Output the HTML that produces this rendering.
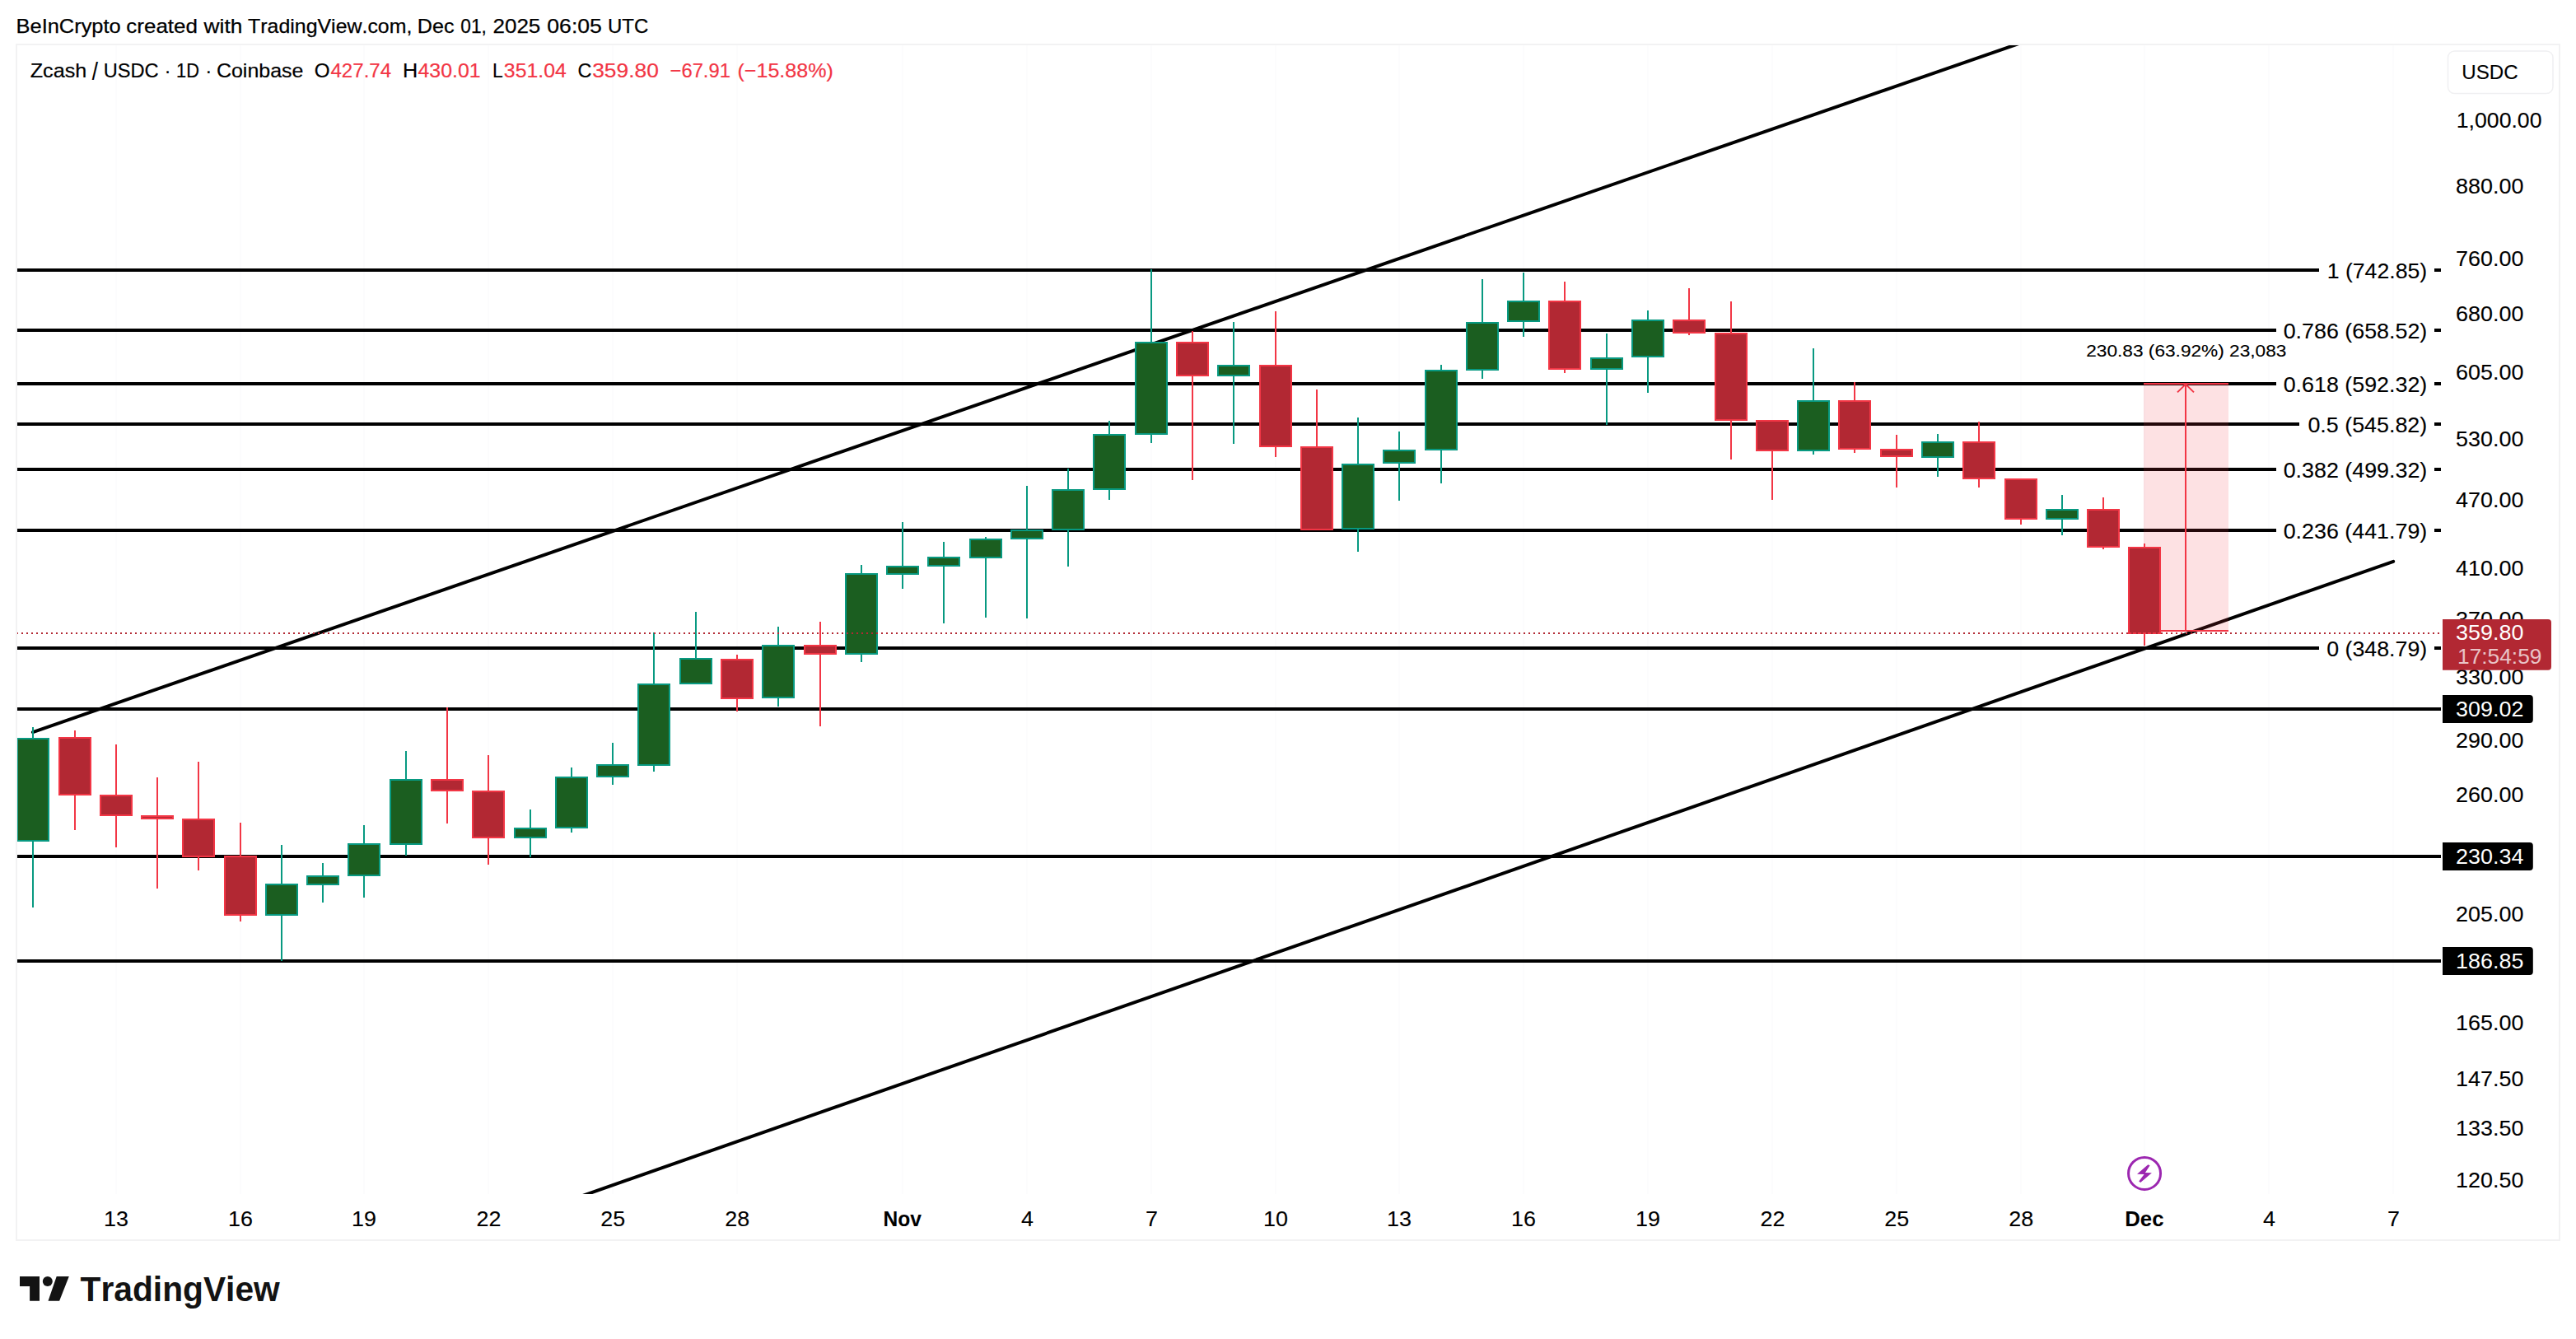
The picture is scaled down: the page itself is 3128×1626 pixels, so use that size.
<!DOCTYPE html>
<html lang="en"><head><meta charset="utf-8"><title>Zcash / USDC chart</title>
<style>html,body{margin:0;padding:0;background:#fff;overflow:hidden;}svg{display:block;width:100vw;height:auto;}</style></head>
<body>
<svg viewBox="0 0 3128 1626" font-family='"Liberation Sans", sans-serif' style="font-kerning:none">
<rect width="3128" height="1626" fill="#ffffff"/>
<rect x="20" y="54" width="3088" height="1452" fill="none" stroke="#f2f2f3" stroke-width="2"/>
<defs><clipPath id="pane"><rect x="21" y="55" width="2943" height="1395"/></clipPath></defs>
<rect x="140" y="55" width="2" height="1395" fill="#fcfcfd"/>
<rect x="291" y="55" width="2" height="1395" fill="#fcfcfd"/>
<rect x="441" y="55" width="2" height="1395" fill="#fcfcfd"/>
<rect x="592" y="55" width="2" height="1395" fill="#fcfcfd"/>
<rect x="743" y="55" width="2" height="1395" fill="#fcfcfd"/>
<rect x="894" y="55" width="2" height="1395" fill="#fcfcfd"/>
<rect x="1095" y="55" width="2" height="1395" fill="#fcfcfd"/>
<rect x="1246" y="55" width="2" height="1395" fill="#fcfcfd"/>
<rect x="1397" y="55" width="2" height="1395" fill="#fcfcfd"/>
<rect x="1548" y="55" width="2" height="1395" fill="#fcfcfd"/>
<rect x="1698" y="55" width="2" height="1395" fill="#fcfcfd"/>
<rect x="1849" y="55" width="2" height="1395" fill="#fcfcfd"/>
<rect x="2000" y="55" width="2" height="1395" fill="#fcfcfd"/>
<rect x="2151" y="55" width="2" height="1395" fill="#fcfcfd"/>
<rect x="2302" y="55" width="2" height="1395" fill="#fcfcfd"/>
<rect x="2453" y="55" width="2" height="1395" fill="#fcfcfd"/>
<rect x="2603" y="55" width="2" height="1395" fill="#fcfcfd"/>
<rect x="2754" y="55" width="2" height="1395" fill="#fcfcfd"/>
<rect x="2905" y="55" width="2" height="1395" fill="#fcfcfd"/>
<text x="19.57" y="39.90" font-size="24" fill="#000000" textLength="127.10" lengthAdjust="spacingAndGlyphs" stroke="#000000" stroke-width="0.25">BeInCrypto</text>
<text x="153.30" y="39.90" font-size="24" fill="#000000" textLength="86.68" lengthAdjust="spacingAndGlyphs" stroke="#000000" stroke-width="0.25">created</text>
<text x="247.64" y="39.90" font-size="24" fill="#000000" textLength="46.67" lengthAdjust="spacingAndGlyphs" stroke="#000000" stroke-width="0.25">with</text>
<text x="301.14" y="39.90" font-size="24" fill="#000000" textLength="199.20" lengthAdjust="spacingAndGlyphs" stroke="#000000" stroke-width="0.25">TradingView.com,</text>
<text x="506.84" y="39.90" font-size="24" fill="#000000" textLength="44.73" lengthAdjust="spacingAndGlyphs" stroke="#000000" stroke-width="0.25">Dec</text>
<text x="559.31" y="39.90" font-size="24" fill="#000000" textLength="31.63" lengthAdjust="spacingAndGlyphs" stroke="#000000" stroke-width="0.25">01,</text>
<text x="598.49" y="39.90" font-size="24" fill="#000000" textLength="57.80" lengthAdjust="spacingAndGlyphs" stroke="#000000" stroke-width="0.25">2025</text>
<text x="664.26" y="39.90" font-size="24" fill="#000000" textLength="66.66" lengthAdjust="spacingAndGlyphs" stroke="#000000" stroke-width="0.25">06:05</text>
<text x="737.95" y="39.90" font-size="24" fill="#000000" textLength="49.26" lengthAdjust="spacingAndGlyphs" stroke="#000000" stroke-width="0.25">UTC</text>
<text x="36.70" y="94.00" font-size="24.5" fill="#000000" textLength="68.53" lengthAdjust="spacingAndGlyphs" stroke="#000000" stroke-width="0.2">Zcash</text>
<text x="111.70" y="97.40" font-size="29" fill="#000000" textLength="7.20" lengthAdjust="spacingAndGlyphs" stroke="#000000" stroke-width="0.12">/</text>
<text x="125.68" y="94.00" font-size="24.5" fill="#000000" textLength="66.92" lengthAdjust="spacingAndGlyphs" stroke="#000000" stroke-width="0.2">USDC</text>
<text x="199.43" y="94.00" font-size="24.5" fill="#000000" textLength="8.16" lengthAdjust="spacingAndGlyphs" stroke="#000000" stroke-width="0.12">·</text>
<text x="214.04" y="94.00" font-size="24.5" fill="#000000" textLength="27.91" lengthAdjust="spacingAndGlyphs" stroke="#000000" stroke-width="0.2">1D</text>
<text x="249.13" y="94.00" font-size="24.5" fill="#000000" textLength="8.16" lengthAdjust="spacingAndGlyphs" stroke="#000000" stroke-width="0.12">·</text>
<text x="262.93" y="94.00" font-size="24.5" fill="#000000" textLength="105.58" lengthAdjust="spacingAndGlyphs" stroke="#000000" stroke-width="0.2">Coinbase</text>
<text x="381.86" y="94.00" font-size="24.5" fill="#000000" textLength="18.80" lengthAdjust="spacingAndGlyphs" stroke="#000000" stroke-width="0.2">O</text>
<text x="401.45" y="94.00" font-size="24.5" fill="#f23645" textLength="73.76" lengthAdjust="spacingAndGlyphs" stroke="#f23645" stroke-width="0.2">427.74</text>
<text x="488.93" y="94.00" font-size="24.5" fill="#000000" textLength="18.23" lengthAdjust="spacingAndGlyphs" stroke="#000000" stroke-width="0.2">H</text>
<text x="507.53" y="94.00" font-size="24.5" fill="#f23645" textLength="76.09" lengthAdjust="spacingAndGlyphs" stroke="#f23645" stroke-width="0.2">430.01</text>
<text x="597.92" y="94.00" font-size="24.5" fill="#000000" textLength="12.74" lengthAdjust="spacingAndGlyphs" stroke="#000000" stroke-width="0.2">L</text>
<text x="611.86" y="94.00" font-size="24.5" fill="#f23645" textLength="75.87" lengthAdjust="spacingAndGlyphs" stroke="#f23645" stroke-width="0.2">351.04</text>
<text x="701.61" y="94.00" font-size="24.5" fill="#000000" textLength="16.88" lengthAdjust="spacingAndGlyphs" stroke="#000000" stroke-width="0.2">C</text>
<text x="719.20" y="94.00" font-size="24.5" fill="#f23645" textLength="80.63" lengthAdjust="spacingAndGlyphs" stroke="#f23645" stroke-width="0.2">359.80</text>
<text x="813.53" y="94.00" font-size="24.5" fill="#f23645" textLength="73.44" lengthAdjust="spacingAndGlyphs" stroke="#f23645" stroke-width="0.2">−67.91</text>
<text x="895.44" y="94.00" font-size="24.5" fill="#f23645" textLength="116.41" lengthAdjust="spacingAndGlyphs" stroke="#f23645" stroke-width="0.2">(−15.88%)</text>
<g clip-path="url(#pane)">
<rect x="20.5" y="326" width="2795.5" height="4" fill="#000"/>
<rect x="20.5" y="399" width="2743.5" height="4" fill="#000"/>
<rect x="20.5" y="464" width="2743.5" height="4" fill="#000"/>
<rect x="20.5" y="513" width="2771.5" height="4" fill="#000"/>
<rect x="20.5" y="568" width="2743.5" height="4" fill="#000"/>
<rect x="20.5" y="642" width="2743.5" height="4" fill="#000"/>
<rect x="20.5" y="785" width="2795.5" height="4" fill="#000"/>
<rect x="20.5" y="859.0" width="2943.5" height="4" fill="#000"/>
<rect x="20.5" y="1038.0" width="2943.5" height="4" fill="#000"/>
<rect x="20.5" y="1165.0" width="2943.5" height="4" fill="#000"/>
<line x1="39.90" y1="889.10" x2="2600.00" y2="1.51" stroke="#000" stroke-width="4" stroke-linecap="round"/>
<line x1="600.00" y1="1489.66" x2="2906.20" y2="681.80" stroke="#000" stroke-width="4" stroke-linecap="round"/>
<rect x="2603" y="466" width="103" height="300" fill="#f23645" fill-opacity="0.15"/>
<rect x="39" y="883" width="2" height="219" fill="#089981"/>
<rect x="20" y="896" width="40" height="126" fill="#089981"/>
<rect x="22" y="898" width="36" height="122" fill="#1b5e20"/>
<rect x="90" y="887" width="2" height="121" fill="#f23645"/>
<rect x="71" y="895" width="40" height="71" fill="#f23645"/>
<rect x="73" y="897" width="36" height="67" fill="#b22833"/>
<rect x="140" y="904" width="2" height="125" fill="#f23645"/>
<rect x="121" y="965" width="40" height="26" fill="#f23645"/>
<rect x="123" y="967" width="36" height="22" fill="#b22833"/>
<rect x="190" y="944" width="2" height="135" fill="#f23645"/>
<rect x="171" y="990" width="40" height="5" fill="#f23645"/>
<rect x="173" y="992" width="36" height="1" fill="#b22833"/>
<rect x="240" y="925" width="2" height="132" fill="#f23645"/>
<rect x="221" y="994" width="40" height="47" fill="#f23645"/>
<rect x="223" y="996" width="36" height="43" fill="#b22833"/>
<rect x="291" y="999" width="2" height="120" fill="#f23645"/>
<rect x="272" y="1039" width="40" height="73" fill="#f23645"/>
<rect x="274" y="1041" width="36" height="69" fill="#b22833"/>
<rect x="341" y="1026" width="2" height="141" fill="#089981"/>
<rect x="322" y="1073" width="40" height="39" fill="#089981"/>
<rect x="324" y="1075" width="36" height="35" fill="#1b5e20"/>
<rect x="391" y="1048" width="2" height="48" fill="#089981"/>
<rect x="372" y="1063" width="40" height="12" fill="#089981"/>
<rect x="374" y="1065" width="36" height="8" fill="#1b5e20"/>
<rect x="441" y="1002" width="2" height="88" fill="#089981"/>
<rect x="422" y="1024" width="40" height="40" fill="#089981"/>
<rect x="424" y="1026" width="36" height="36" fill="#1b5e20"/>
<rect x="492" y="912" width="2" height="127" fill="#089981"/>
<rect x="473" y="946" width="40" height="80" fill="#089981"/>
<rect x="475" y="948" width="36" height="76" fill="#1b5e20"/>
<rect x="542" y="859" width="2" height="141" fill="#f23645"/>
<rect x="523" y="946" width="40" height="15" fill="#f23645"/>
<rect x="525" y="948" width="36" height="11" fill="#b22833"/>
<rect x="592" y="917" width="2" height="133" fill="#f23645"/>
<rect x="573" y="960" width="40" height="58" fill="#f23645"/>
<rect x="575" y="962" width="36" height="54" fill="#b22833"/>
<rect x="643" y="983" width="2" height="58" fill="#089981"/>
<rect x="624" y="1005" width="40" height="13" fill="#089981"/>
<rect x="626" y="1007" width="36" height="9" fill="#1b5e20"/>
<rect x="693" y="932" width="2" height="79" fill="#089981"/>
<rect x="674" y="943" width="40" height="63" fill="#089981"/>
<rect x="676" y="945" width="36" height="59" fill="#1b5e20"/>
<rect x="743" y="902" width="2" height="51" fill="#089981"/>
<rect x="724" y="928" width="40" height="16" fill="#089981"/>
<rect x="726" y="930" width="36" height="12" fill="#1b5e20"/>
<rect x="793" y="768" width="2" height="169" fill="#089981"/>
<rect x="774" y="830" width="40" height="100" fill="#089981"/>
<rect x="776" y="832" width="36" height="96" fill="#1b5e20"/>
<rect x="844" y="743" width="2" height="88" fill="#089981"/>
<rect x="825" y="799" width="40" height="32" fill="#089981"/>
<rect x="827" y="801" width="36" height="28" fill="#1b5e20"/>
<rect x="894" y="795" width="2" height="69" fill="#f23645"/>
<rect x="875" y="800" width="40" height="49" fill="#f23645"/>
<rect x="877" y="802" width="36" height="45" fill="#b22833"/>
<rect x="944" y="761" width="2" height="97" fill="#089981"/>
<rect x="925" y="783" width="40" height="65" fill="#089981"/>
<rect x="927" y="785" width="36" height="61" fill="#1b5e20"/>
<rect x="995" y="755" width="2" height="127" fill="#f23645"/>
<rect x="976" y="783" width="40" height="12" fill="#f23645"/>
<rect x="978" y="785" width="36" height="8" fill="#b22833"/>
<rect x="1045" y="686" width="2" height="118" fill="#089981"/>
<rect x="1026" y="696" width="40" height="99" fill="#089981"/>
<rect x="1028" y="698" width="36" height="95" fill="#1b5e20"/>
<rect x="1095" y="634" width="2" height="81" fill="#089981"/>
<rect x="1076" y="687" width="40" height="11" fill="#089981"/>
<rect x="1078" y="689" width="36" height="7" fill="#1b5e20"/>
<rect x="1145" y="658" width="2" height="99" fill="#089981"/>
<rect x="1126" y="676" width="40" height="12" fill="#089981"/>
<rect x="1128" y="678" width="36" height="8" fill="#1b5e20"/>
<rect x="1196" y="652" width="2" height="98" fill="#089981"/>
<rect x="1177" y="654" width="40" height="24" fill="#089981"/>
<rect x="1179" y="656" width="36" height="20" fill="#1b5e20"/>
<rect x="1246" y="590" width="2" height="161" fill="#089981"/>
<rect x="1227" y="643" width="40" height="12" fill="#089981"/>
<rect x="1229" y="645" width="36" height="8" fill="#1b5e20"/>
<rect x="1296" y="569" width="2" height="119" fill="#089981"/>
<rect x="1277" y="594" width="40" height="50" fill="#089981"/>
<rect x="1279" y="596" width="36" height="46" fill="#1b5e20"/>
<rect x="1346" y="511" width="2" height="96" fill="#089981"/>
<rect x="1327" y="527" width="40" height="68" fill="#089981"/>
<rect x="1329" y="529" width="36" height="64" fill="#1b5e20"/>
<rect x="1397" y="327" width="2" height="211" fill="#089981"/>
<rect x="1378" y="415" width="40" height="113" fill="#089981"/>
<rect x="1380" y="417" width="36" height="109" fill="#1b5e20"/>
<rect x="1447" y="402" width="2" height="181" fill="#f23645"/>
<rect x="1428" y="415" width="40" height="42" fill="#f23645"/>
<rect x="1430" y="417" width="36" height="38" fill="#b22833"/>
<rect x="1497" y="391" width="2" height="148" fill="#089981"/>
<rect x="1478" y="443" width="40" height="14" fill="#089981"/>
<rect x="1480" y="445" width="36" height="10" fill="#1b5e20"/>
<rect x="1548" y="378" width="2" height="177" fill="#f23645"/>
<rect x="1529" y="443" width="40" height="100" fill="#f23645"/>
<rect x="1531" y="445" width="36" height="96" fill="#b22833"/>
<rect x="1598" y="473" width="2" height="171" fill="#f23645"/>
<rect x="1579" y="542" width="40" height="102" fill="#f23645"/>
<rect x="1581" y="544" width="36" height="98" fill="#b22833"/>
<rect x="1648" y="507" width="2" height="163" fill="#089981"/>
<rect x="1629" y="563" width="40" height="80" fill="#089981"/>
<rect x="1631" y="565" width="36" height="76" fill="#1b5e20"/>
<rect x="1698" y="524" width="2" height="84" fill="#089981"/>
<rect x="1679" y="546" width="40" height="17" fill="#089981"/>
<rect x="1681" y="548" width="36" height="13" fill="#1b5e20"/>
<rect x="1749" y="443" width="2" height="144" fill="#089981"/>
<rect x="1730" y="449" width="40" height="98" fill="#089981"/>
<rect x="1732" y="451" width="36" height="94" fill="#1b5e20"/>
<rect x="1799" y="339" width="2" height="121" fill="#089981"/>
<rect x="1780" y="391" width="40" height="59" fill="#089981"/>
<rect x="1782" y="393" width="36" height="55" fill="#1b5e20"/>
<rect x="1849" y="331" width="2" height="78" fill="#089981"/>
<rect x="1830" y="365" width="40" height="26" fill="#089981"/>
<rect x="1832" y="367" width="36" height="22" fill="#1b5e20"/>
<rect x="1899" y="342" width="2" height="111" fill="#f23645"/>
<rect x="1880" y="365" width="40" height="84" fill="#f23645"/>
<rect x="1882" y="367" width="36" height="80" fill="#b22833"/>
<rect x="1950" y="405" width="2" height="111" fill="#089981"/>
<rect x="1931" y="434" width="40" height="15" fill="#089981"/>
<rect x="1933" y="436" width="36" height="11" fill="#1b5e20"/>
<rect x="2000" y="377" width="2" height="100" fill="#089981"/>
<rect x="1981" y="388" width="40" height="46" fill="#089981"/>
<rect x="1983" y="390" width="36" height="42" fill="#1b5e20"/>
<rect x="2050" y="350" width="2" height="57" fill="#f23645"/>
<rect x="2031" y="388" width="40" height="17" fill="#f23645"/>
<rect x="2033" y="390" width="36" height="13" fill="#b22833"/>
<rect x="2101" y="366" width="2" height="192" fill="#f23645"/>
<rect x="2082" y="404" width="40" height="107" fill="#f23645"/>
<rect x="2084" y="406" width="36" height="103" fill="#b22833"/>
<rect x="2151" y="510" width="2" height="97" fill="#f23645"/>
<rect x="2132" y="510" width="40" height="38" fill="#f23645"/>
<rect x="2134" y="512" width="36" height="34" fill="#b22833"/>
<rect x="2201" y="423" width="2" height="129" fill="#089981"/>
<rect x="2182" y="486" width="40" height="62" fill="#089981"/>
<rect x="2184" y="488" width="36" height="58" fill="#1b5e20"/>
<rect x="2251" y="464" width="2" height="86" fill="#f23645"/>
<rect x="2232" y="486" width="40" height="60" fill="#f23645"/>
<rect x="2234" y="488" width="36" height="56" fill="#b22833"/>
<rect x="2302" y="528" width="2" height="64" fill="#f23645"/>
<rect x="2283" y="545" width="40" height="10" fill="#f23645"/>
<rect x="2285" y="547" width="36" height="6" fill="#b22833"/>
<rect x="2352" y="527" width="2" height="52" fill="#089981"/>
<rect x="2333" y="536" width="40" height="20" fill="#089981"/>
<rect x="2335" y="538" width="36" height="16" fill="#1b5e20"/>
<rect x="2402" y="512" width="2" height="80" fill="#f23645"/>
<rect x="2383" y="536" width="40" height="46" fill="#f23645"/>
<rect x="2385" y="538" width="36" height="42" fill="#b22833"/>
<rect x="2453" y="581" width="2" height="56" fill="#f23645"/>
<rect x="2434" y="581" width="40" height="50" fill="#f23645"/>
<rect x="2436" y="583" width="36" height="46" fill="#b22833"/>
<rect x="2503" y="601" width="2" height="49" fill="#089981"/>
<rect x="2484" y="618" width="40" height="13" fill="#089981"/>
<rect x="2486" y="620" width="36" height="9" fill="#1b5e20"/>
<rect x="2553" y="604" width="2" height="63" fill="#f23645"/>
<rect x="2534" y="618" width="40" height="47" fill="#f23645"/>
<rect x="2536" y="620" width="36" height="43" fill="#b22833"/>
<rect x="2603" y="660" width="2" height="124" fill="#f23645"/>
<rect x="2584" y="664" width="40" height="106" fill="#f23645"/>
<rect x="2586" y="666" width="36" height="102" fill="#b22833"/>
<rect x="2603" y="465" width="103" height="2" fill="#f23645"/>
<rect x="2624" y="765" width="82" height="2" fill="#f23645"/>
<rect x="2653" y="466" width="2" height="300" fill="#f23645"/>
<path d="M2644 476.4 L2654 466.6 L2664 476.4" fill="none" stroke="#f23645" stroke-width="2"/>
<line x1="20" y1="769" x2="2964" y2="769" stroke="#b22833" stroke-width="2" stroke-dasharray="2 4"/>
</g>
<circle cx="2604.05" cy="1424.9" r="19.5" fill="none" stroke="#9c27b0" stroke-width="3"/>
<path d="M2608.35 1414.15 L2610.6 1415.35 L2604.95 1423.98 L2612.9 1424.24 L2599.2 1436 L2597.2 1434.4 L2603.65 1426.07 L2595 1425.65 Z" fill="#9c27b0"/>
<text x="2825.67" y="337.60" font-size="25" fill="#000000" textLength="121.59" lengthAdjust="spacingAndGlyphs" stroke="#000000" stroke-width="0.12">1 (742.85)</text>
<rect x="2956" y="326.0" width="8" height="4" fill="#000"/>
<text x="2772.65" y="410.60" font-size="25" fill="#000000" textLength="174.61" lengthAdjust="spacingAndGlyphs" stroke="#000000" stroke-width="0.12">0.786 (658.52)</text>
<rect x="2956" y="399.0" width="8" height="4" fill="#000"/>
<text x="2772.65" y="475.60" font-size="25" fill="#000000" textLength="174.61" lengthAdjust="spacingAndGlyphs" stroke="#000000" stroke-width="0.12">0.618 (592.32)</text>
<rect x="2956" y="464.0" width="8" height="4" fill="#000"/>
<text x="2802.45" y="524.60" font-size="25" fill="#000000" textLength="144.81" lengthAdjust="spacingAndGlyphs" stroke="#000000" stroke-width="0.12">0.5 (545.82)</text>
<rect x="2956" y="513.0" width="8" height="4" fill="#000"/>
<text x="2772.65" y="579.60" font-size="25" fill="#000000" textLength="174.61" lengthAdjust="spacingAndGlyphs" stroke="#000000" stroke-width="0.12">0.382 (499.32)</text>
<rect x="2956" y="568.0" width="8" height="4" fill="#000"/>
<text x="2772.65" y="653.60" font-size="25" fill="#000000" textLength="174.61" lengthAdjust="spacingAndGlyphs" stroke="#000000" stroke-width="0.12">0.236 (441.79)</text>
<rect x="2956" y="642.0" width="8" height="4" fill="#000"/>
<text x="2825.15" y="796.60" font-size="25" fill="#000000" textLength="122.11" lengthAdjust="spacingAndGlyphs" stroke="#000000" stroke-width="0.12">0 (348.79)</text>
<rect x="2956" y="785.0" width="8" height="4" fill="#000"/>
<text x="2533.26" y="432.60" font-size="20" fill="#000000" textLength="243.14" lengthAdjust="spacingAndGlyphs" stroke="#000000" stroke-width="0.12">230.83 (63.92%) 23,083</text>
<text x="2982.77" y="154.90" font-size="25" fill="#000000" textLength="103.77" lengthAdjust="spacingAndGlyphs" stroke="#000000" stroke-width="0.12">1,000.00</text>
<text x="2982.13" y="234.80" font-size="25" fill="#000000" textLength="82.32" lengthAdjust="spacingAndGlyphs" stroke="#000000" stroke-width="0.12">880.00</text>
<text x="2982.13" y="323.00" font-size="25" fill="#000000" textLength="82.32" lengthAdjust="spacingAndGlyphs" stroke="#000000" stroke-width="0.12">760.00</text>
<text x="2982.13" y="390.00" font-size="25" fill="#000000" textLength="82.32" lengthAdjust="spacingAndGlyphs" stroke="#000000" stroke-width="0.12">680.00</text>
<text x="2982.13" y="461.20" font-size="25" fill="#000000" textLength="82.32" lengthAdjust="spacingAndGlyphs" stroke="#000000" stroke-width="0.12">605.00</text>
<text x="2982.13" y="542.30" font-size="25" fill="#000000" textLength="82.32" lengthAdjust="spacingAndGlyphs" stroke="#000000" stroke-width="0.12">530.00</text>
<text x="2982.13" y="615.50" font-size="25" fill="#000000" textLength="82.32" lengthAdjust="spacingAndGlyphs" stroke="#000000" stroke-width="0.12">470.00</text>
<text x="2982.13" y="698.60" font-size="25" fill="#000000" textLength="82.32" lengthAdjust="spacingAndGlyphs" stroke="#000000" stroke-width="0.12">410.00</text>
<text x="2982.13" y="760.80" font-size="25" fill="#000000" textLength="82.32" lengthAdjust="spacingAndGlyphs" stroke="#000000" stroke-width="0.12">370.00</text>
<text x="2982.13" y="830.60" font-size="25" fill="#000000" textLength="82.32" lengthAdjust="spacingAndGlyphs" stroke="#000000" stroke-width="0.12">330.00</text>
<text x="2982.13" y="908.00" font-size="25" fill="#000000" textLength="82.32" lengthAdjust="spacingAndGlyphs" stroke="#000000" stroke-width="0.12">290.00</text>
<text x="2982.13" y="973.90" font-size="25" fill="#000000" textLength="82.32" lengthAdjust="spacingAndGlyphs" stroke="#000000" stroke-width="0.12">260.00</text>
<text x="2982.13" y="1119.10" font-size="25" fill="#000000" textLength="82.32" lengthAdjust="spacingAndGlyphs" stroke="#000000" stroke-width="0.12">205.00</text>
<text x="2982.13" y="1251.30" font-size="25" fill="#000000" textLength="82.32" lengthAdjust="spacingAndGlyphs" stroke="#000000" stroke-width="0.12">165.00</text>
<text x="2982.13" y="1319.40" font-size="25" fill="#000000" textLength="82.32" lengthAdjust="spacingAndGlyphs" stroke="#000000" stroke-width="0.12">147.50</text>
<text x="2982.13" y="1379.40" font-size="25" fill="#000000" textLength="82.32" lengthAdjust="spacingAndGlyphs" stroke="#000000" stroke-width="0.12">133.50</text>
<text x="2982.13" y="1442.40" font-size="25" fill="#000000" textLength="82.32" lengthAdjust="spacingAndGlyphs" stroke="#000000" stroke-width="0.12">120.50</text>
<rect x="2972.5" y="62" width="127.5" height="51.5" rx="8" ry="8" fill="#fff" stroke="#f0f0f2" stroke-width="1.5"/>
<text x="2989.34" y="95.90" font-size="24.5" fill="#000000" textLength="68.38" lengthAdjust="spacingAndGlyphs" stroke="#000000" stroke-width="0.12">USDC</text>
<path d="M2966 844.0 H3071.8 a4 4 0 0 1 4 4 V874.0 a4 4 0 0 1 -4 4 H2966 Z" fill="#000"/>
<text x="2982.13" y="869.70" font-size="25" fill="#fff" textLength="82.32" lengthAdjust="spacingAndGlyphs">309.02</text>
<path d="M2966 1023.0 H3071.8 a4 4 0 0 1 4 4 V1053.0 a4 4 0 0 1 -4 4 H2966 Z" fill="#000"/>
<text x="2982.13" y="1048.70" font-size="25" fill="#fff" textLength="82.32" lengthAdjust="spacingAndGlyphs">230.34</text>
<path d="M2966 1150.0 H3071.8 a4 4 0 0 1 4 4 V1180.0 a4 4 0 0 1 -4 4 H2966 Z" fill="#000"/>
<text x="2982.13" y="1175.70" font-size="25" fill="#fff" textLength="82.32" lengthAdjust="spacingAndGlyphs">186.85</text>
<path d="M2966 752 H3094 a4 4 0 0 1 4 4 V809.8 a4 4 0 0 1 -4 4 H2966 Z" fill="#b22833"/>
<text x="2982.13" y="777.40" font-size="25" fill="#fff" textLength="82.32" lengthAdjust="spacingAndGlyphs">359.80</text>
<text x="2984.00" y="805.50" font-size="25" fill="#ffffff" textLength="102.45" lengthAdjust="spacingAndGlyphs" opacity="0.72">17:54:59</text>
<text x="126.00" y="1488.70" font-size="25" fill="#000000" textLength="29.94" lengthAdjust="spacingAndGlyphs" stroke="#000000" stroke-width="0.12">13</text>
<text x="277.00" y="1488.70" font-size="25" fill="#000000" textLength="29.94" lengthAdjust="spacingAndGlyphs" stroke="#000000" stroke-width="0.12">16</text>
<text x="427.04" y="1488.70" font-size="25" fill="#000000" textLength="29.94" lengthAdjust="spacingAndGlyphs" stroke="#000000" stroke-width="0.12">19</text>
<text x="578.43" y="1488.70" font-size="25" fill="#000000" textLength="29.94" lengthAdjust="spacingAndGlyphs" stroke="#000000" stroke-width="0.12">22</text>
<text x="729.32" y="1488.70" font-size="25" fill="#000000" textLength="29.94" lengthAdjust="spacingAndGlyphs" stroke="#000000" stroke-width="0.12">25</text>
<text x="880.34" y="1488.70" font-size="25" fill="#000000" textLength="29.94" lengthAdjust="spacingAndGlyphs" stroke="#000000" stroke-width="0.12">28</text>
<text x="1072.46" y="1488.70" font-size="25" fill="#000000" textLength="46.45" lengthAdjust="spacingAndGlyphs" font-weight="bold">Nov</text>
<text x="1240.00" y="1488.70" font-size="25" fill="#000000" textLength="14.97" lengthAdjust="spacingAndGlyphs" stroke="#000000" stroke-width="0.12">4</text>
<text x="1390.90" y="1488.70" font-size="25" fill="#000000" textLength="14.97" lengthAdjust="spacingAndGlyphs" stroke="#000000" stroke-width="0.12">7</text>
<text x="1533.93" y="1488.70" font-size="25" fill="#000000" textLength="29.94" lengthAdjust="spacingAndGlyphs" stroke="#000000" stroke-width="0.12">10</text>
<text x="1684.00" y="1488.70" font-size="25" fill="#000000" textLength="29.94" lengthAdjust="spacingAndGlyphs" stroke="#000000" stroke-width="0.12">13</text>
<text x="1835.00" y="1488.70" font-size="25" fill="#000000" textLength="29.94" lengthAdjust="spacingAndGlyphs" stroke="#000000" stroke-width="0.12">16</text>
<text x="1986.04" y="1488.70" font-size="25" fill="#000000" textLength="29.94" lengthAdjust="spacingAndGlyphs" stroke="#000000" stroke-width="0.12">19</text>
<text x="2137.43" y="1488.70" font-size="25" fill="#000000" textLength="29.94" lengthAdjust="spacingAndGlyphs" stroke="#000000" stroke-width="0.12">22</text>
<text x="2288.32" y="1488.70" font-size="25" fill="#000000" textLength="29.94" lengthAdjust="spacingAndGlyphs" stroke="#000000" stroke-width="0.12">25</text>
<text x="2439.34" y="1488.70" font-size="25" fill="#000000" textLength="29.94" lengthAdjust="spacingAndGlyphs" stroke="#000000" stroke-width="0.12">28</text>
<text x="2580.28" y="1488.70" font-size="25" fill="#000000" textLength="47.17" lengthAdjust="spacingAndGlyphs" font-weight="bold">Dec</text>
<text x="2748.00" y="1488.70" font-size="25" fill="#000000" textLength="14.97" lengthAdjust="spacingAndGlyphs" stroke="#000000" stroke-width="0.12">4</text>
<text x="2898.90" y="1488.70" font-size="25" fill="#000000" textLength="14.97" lengthAdjust="spacingAndGlyphs" stroke="#000000" stroke-width="0.12">7</text>
<path d="M24 1550.1 H48 V1579.7 H36.1 V1562.1 H24 Z" fill="#131313"/>
<circle cx="57.8" cy="1555.9" r="6" fill="#131313"/>
<path d="M68.7 1550.1 H83.8 L72.1 1579.7 H58.5 Z" fill="#131313"/>
<text x="97.54" y="1579.70" font-size="43" fill="#131313" textLength="242.28" lengthAdjust="spacingAndGlyphs" font-weight="bold">TradingView</text>
</svg>
</body></html>
